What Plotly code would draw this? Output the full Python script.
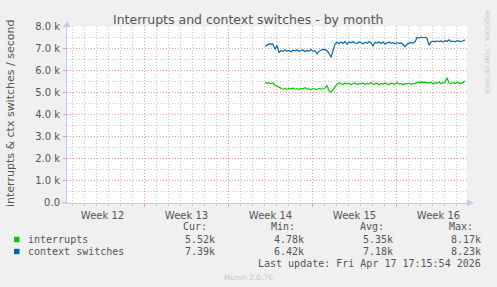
import pandas as pd
import plotly.graph_objects as go

# ---------------- data ----------------
series_names = ["interrupts", "context switches"]
series_colors = ["#00CC00", "#0066B3"]
data_start = "2026-04-02 01:00"
step = "4h"

interrupts = [5470, 5420, 5450, 5400, 5440,
              5330, 5290, 5230, 5180, 5150,
              5190, 5140, 5200, 5160, 5210, 5150, 5180, 5130, 5190, 5170,
              5220, 5150, 5170, 5120, 5180, 5160, 5130, 5190, 5150, 5170,
              5200, 5320, 5080, 5010, 5150, 5300, 5380, 5450,
              5400, 5360, 5430, 5380, 5420, 5350, 5410, 5440, 5370, 5400,
              5390, 5430, 5360, 5410, 5380, 5450, 5370, 5400, 5420, 5350,
              5410, 5380, 5430, 5390, 5360, 5420, 5400, 5370, 5440, 5380,
              5410, 5350, 5400, 5390, 5420, 5370, 5410, 5400,
              5460, 5470, 5460, 5470, 5460, 5450,
              5430, 5470, 5400, 5450, 5420, 5480, 5410, 5440, 5460, 5670,
              5430, 5400, 5460, 5420, 5470, 5440, 5410, 5460, 5520]

context_switches = [7100, 7150, 7200, 7210, 7190,
                    6960, 7140, 6820,
                    6900, 6870, 6930, 6880, 6910, 6850, 6920, 6890, 6940, 6870,
                    6900, 6930, 6860, 6910, 6880, 6950, 6870, 6900,
                    6760, 6880, 6920,
                    6960, 6950, 6900, 6780,
                    6600, 6900, 7200,
                    7280, 7220, 7300, 7240, 7310, 7200, 7290, 7260, 7320, 7250,
                    7230, 7300, 7270, 7210, 7290, 7240, 7310, 7260,
                    7100,
                    7280, 7250, 7310, 7230, 7290, 7200, 7270, 7300, 7240, 7280,
                    7210, 7260, 7230, 7250, 7190,
                    7080,
                    7200, 7260, 7280, 7250, 7300,
                    7500, 7480, 7520, 7490, 7510, 7470,
                    7150, 7300,
                    7330, 7300, 7350, 7310, 7340, 7290, 7360, 7320, 7400, 7310,
                    7340, 7300, 7360, 7330, 7310, 7350, 7390]

stat_headers = ["Cur:", "Min:", "Avg:", "Max:"]
stat_cur = ["5.52k", "7.39k"]
stat_min = ["4.78k", "6.42k"]
stat_avg = ["5.35k", "7.18k"]
stat_max = ["8.17k", "8.23k"]

y_tickvals = [0, 1000, 2000, 3000, 4000, 5000, 6000, 7000, 8000]
y_ticktext = ["0.0", "1.0 k", "2.0 k", "3.0 k", "4.0 k", "5.0 k", "6.0 k", "7.0 k", "8.0 k"]
y_minor_vals = [500, 1500, 2500, 3500, 4500, 5500, 6500, 7500]
y_range = [-22.7, 8022.7]

x_range = ["2026-03-16 13:00", "2026-04-18 21:00"]
title = "Interrupts and context switches - by month"
y_title = "interrupts & ctx switches / second"
last_update = "Last update: Fri Apr 17 17:15:54 2026"
version = "Munin 2.0.76"
side_text = "RRDTOOL / TOBI OETIKER"

# ---------------- layout helpers ----------------
W, H = 497, 287
L, R, T, B = 67, 30, 26, 84
PW, PH = W - L - R, H - T - B


def px(x):
    return (x - L) / PW


def py(y):
    return (H - B - y) / PH


times = pd.date_range(data_start, periods=len(interrupts), freq=step)
days = pd.date_range("2026-03-16", "2026-04-19", freq="D")
minor_days = [d for d in days if d.weekday() != 0]

fig = go.Figure()
for name, vals, col in zip(series_names, [interrupts, context_switches], series_colors):
    fig.add_trace(go.Scatter(x=times, y=vals, mode="lines", name=name,
                             line=dict(color=col, width=1.2), showlegend=False))

txt = "#555555"
axis_col = "#C4C8F2"
major_grid = "#EE9A9A"
minor_grid = "#C8C8C8"
dash = "1px,2px"

fig.update_layout(
    width=W, height=H,
    margin=dict(l=L, r=R, t=T, b=B),
    paper_bgcolor="#F0F0F0",
    plot_bgcolor="#FFFFFF",
    font=dict(family="DejaVu Sans", size=10, color=txt),
    showlegend=False,
)

fig.update_xaxes(
    type="date", range=x_range,
    tick0="2026-03-16", dtick=7 * 86400000,
    ticklabelmode="period", tickformat="Week %V",
    showgrid=True, gridcolor=major_grid, griddash=dash, gridwidth=1,
    ticks="outside", ticklen=3, tickcolor=major_grid,
    showline=True, linecolor=axis_col, linewidth=1,
    zeroline=False,
    tickfont=dict(size=10, color=txt),
    minor=dict(tickmode="array", tickvals=minor_days, showgrid=True,
               gridcolor=minor_grid, griddash=dash, gridwidth=1,
               ticks="outside", ticklen=2, tickcolor=minor_grid),
)

fig.update_yaxes(
    range=y_range, tickvals=y_tickvals, ticktext=y_ticktext,
    showgrid=True, gridcolor=major_grid, griddash=dash, gridwidth=1,
    ticks="outside", ticklen=3, tickcolor=major_grid,
    ticklabelstandoff=1,
    showline=True, linecolor=axis_col, linewidth=1,
    zeroline=False,
    tickfont=dict(size=10, color=txt),
    minor=dict(tickmode="array", tickvals=y_minor_vals, showgrid=True,
               gridcolor=minor_grid, griddash=dash, gridwidth=1),
)

ann = []
ann.append(dict(text=title, x=px(248.5), y=py(19), xref="paper", yref="paper",
                showarrow=False, xanchor="center", yanchor="middle",
                font=dict(family="DejaVu Sans", size=12.5, color=txt)))
ann.append(dict(text=y_title, x=px(10), y=py(114), xref="paper", yref="paper",
                showarrow=False, xanchor="center", yanchor="middle", textangle=-90,
                font=dict(family="DejaVu Sans", size=11, color=txt)))
ann.append(dict(text=side_text, x=px(487), y=py(52), xref="paper", yref="paper",
                showarrow=False, xanchor="center", yanchor="middle", textangle=90,
                font=dict(family="DejaVu Sans", size=6.5, color="#C8C8C8")))

mono = dict(family="DejaVu Sans Mono", size=10, color=txt)
header_x = [181, 269, 358, 447]
for h, hx in zip(stat_headers, header_x):
    ann.append(dict(text=h, x=px(hx), y=py(226.5), xref="paper", yref="paper",
                    showarrow=False, xanchor="left", yanchor="middle", font=mono))

value_right = [216.5, 305.5, 394.5, 482.5]
row_y = [239.5, 251.5]
for i, name in enumerate(series_names):
    ann.append(dict(text=name, x=px(25.5), y=py(row_y[i]), xref="paper", yref="paper",
                    showarrow=False, xanchor="left", yanchor="middle", font=mono))
    for col, vx in zip([stat_cur, stat_min, stat_avg, stat_max], value_right):
        ann.append(dict(text=col[i], x=px(vx), y=py(row_y[i]), xref="paper", yref="paper",
                        showarrow=False, xanchor="right", yanchor="middle", font=mono))

ann.append(dict(text=last_update, x=px(482.5), y=py(263.5), xref="paper", yref="paper",
                showarrow=False, xanchor="right", yanchor="middle", font=mono))
ann.append(dict(text=version, x=px(248.5), y=py(277), xref="paper", yref="paper",
                showarrow=False, xanchor="center", yanchor="middle",
                font=dict(family="DejaVu Sans", size=7.5, color="#C8C8C8")))
fig.update_layout(annotations=ann)

shapes = []
for i, col in enumerate(series_colors):
    shapes.append(dict(type="rect", xref="paper", yref="paper",
                       x0=px(14), x1=px(19.5), y0=py(row_y[i] - 2.7), y1=py(row_y[i] + 2.7),
                       fillcolor=col, line=dict(width=0)))
shapes.append(dict(type="path", xref="paper", yref="paper",
                   path=f"M {px(63.5)} {py(27)} L {px(70.5)} {py(27)} L {px(67)} {py(21)} Z",
                   fillcolor=axis_col, line=dict(width=0)))
shapes.append(dict(type="path", xref="paper", yref="paper",
                   path=f"M {px(467)} {py(199.5)} L {px(467)} {py(206.5)} L {px(474)} {py(203)} Z",
                   fillcolor=axis_col, line=dict(width=0)))
shapes.append(dict(type="line", xref="paper", yref="paper",
                   x0=px(62), x1=px(67), y0=py(203), y1=py(203),
                   line=dict(color=axis_col, width=1)))
fig.update_layout(shapes=shapes)

fig.write_html("out.html")
